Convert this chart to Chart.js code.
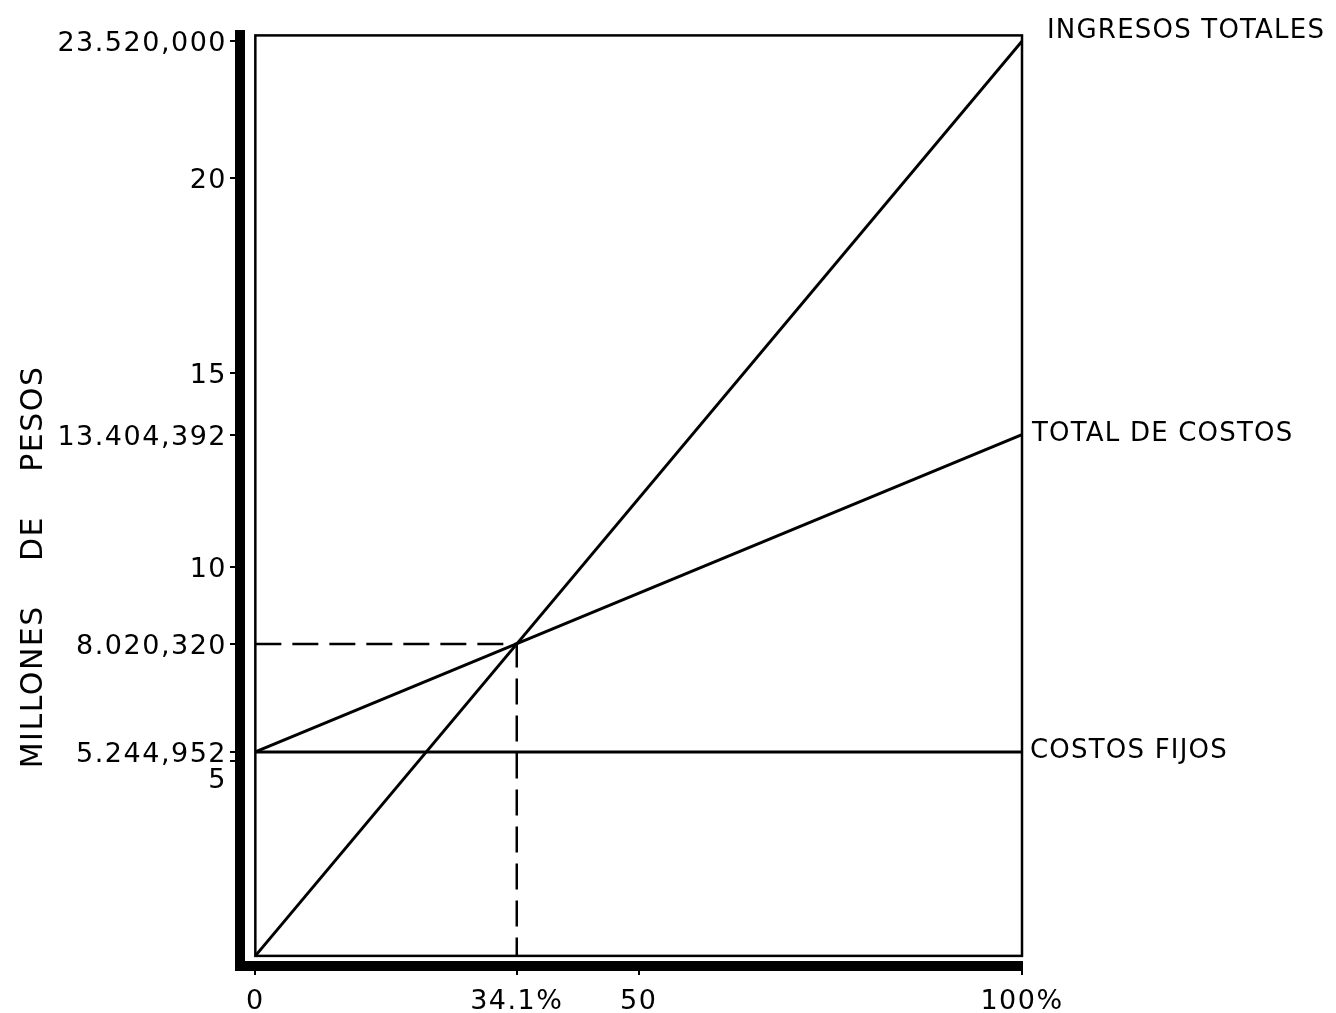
<!DOCTYPE html>
<html>
<head>
<meta charset="utf-8">
<script src="https://cdn.jsdelivr.net/npm/chart.js@4/dist/chart.umd.min.js"></script>
<style>
  html, body { margin: 0; padding: 0; background: #ffffff; }
  #wrap { width: 1336px; height: 1013px; position: relative; }
</style>
</head>
<body>
<div id="wrap"><canvas id="c" width="1336" height="1013"></canvas></div>
<script>
// ---- data ----
const xRange = [0, 100];                       // % of capacity
const ingresosTotales = [0, 23520000];
const totalDeCostos = [5244952, 13404392];
const costosFijos = [5244952, 5244952];
const breakEvenX = [0, 34.1, 34.1];
const breakEvenY = [8020320, 8020320, 0];

const seriesNames = ['INGRESOS TOTALES', 'TOTAL DE COSTOS', 'COSTOS FIJOS'];

const yTickValues = [23520000, 20000000, 15000000, 13404392, 10000000, 8020320, 5244952, 5000000];
const yTickLabels = ['23.520,000', '20', '15', '13.404,392', '10', '8.020,320', '5.244,952', ['', '5']];
const xTickValues = [0, 34.1, 50, 100];
const xTickLabels = ['0', '34.1%', '50', '100%'];
const yTitle = 'MILLONES    DE    PESOS' + '\u00A0'.repeat(12);

const toPts = (xs, ys) => xs.map((x, i) => ({ x: x, y: ys[i] }));

const FONT = "'DejaVu Sans', sans-serif";

const spacingPlugin = {
  id: 'spacing',
  beforeUpdate(chart) { chart.ctx.letterSpacing = '1.5px'; },
  beforeDraw(chart) {
    const ctx = chart.ctx;
    ctx.save();
    ctx.fillStyle = '#ffffff';
    ctx.fillRect(0, 0, chart.width, chart.height);
    ctx.restore();
    ctx.letterSpacing = '1.5px';
  }
};

// thin inner frame (from the 0/0 corner to the top-right of the plot)
const framePlugin = {
  id: 'frame',
  beforeDatasetsDraw(chart) {
    const { ctx, chartArea, scales } = chart;
    const x0 = scales.x.getPixelForValue(0);
    const y0 = scales.y.getPixelForValue(0);
    ctx.save();
    ctx.strokeStyle = '#000';
    ctx.lineWidth = 2.5;
    ctx.strokeRect(x0, chartArea.top, chartArea.right - x0, y0 - chartArea.top);
    ctx.restore();
  }
};

// series names written at the end of each line
const endLabelPlugin = {
  id: 'endLabels',
  afterDatasetsDraw(chart) {
    const { ctx } = chart;
    const offsets = [[25, -10], [10, 0], [8, -1]];
    ctx.save();
    ctx.letterSpacing = '1.2px';
    ctx.fillStyle = '#000';
    ctx.font = "26px " + FONT;
    ctx.textBaseline = 'middle';
    ctx.textAlign = 'left';
    chart.data.datasets.forEach((ds, i) => {
      if (!ds.label) return;
      const meta = chart.getDatasetMeta(i);
      const last = meta.data[meta.data.length - 1];
      const off = offsets[i] || [10, -8];
      ctx.fillText(ds.label, last.x + off[0], last.y + off[1]);
    });
    ctx.restore();
  }
};

const lineStyle = { borderColor: '#000', borderWidth: 3, pointRadius: 0, fill: false, tension: 0 };

new Chart(document.getElementById('c'), {
  type: 'line',
  data: {
    datasets: [
      Object.assign({ label: seriesNames[0], data: toPts(xRange, ingresosTotales) }, lineStyle),
      Object.assign({ label: seriesNames[1], data: toPts(xRange, totalDeCostos) }, lineStyle),
      Object.assign({ label: seriesNames[2], data: toPts(xRange, costosFijos) }, lineStyle),
      Object.assign({ label: '', data: toPts(breakEvenX, breakEvenY), borderDash: [26, 11] }, lineStyle, { borderWidth: 2.5 })
    ]
  },
  options: {
    responsive: false,
    animation: false,
    devicePixelRatio: 1,
    layout: { padding: { top: 34, right: 314, left: 0, bottom: 0 } },
    plugins: { legend: { display: false }, tooltip: { enabled: false } },
    scales: {
      x: {
        type: 'linear',
        min: -2,
        max: 100,
        afterBuildTicks(scale) { scale.ticks = xTickValues.map(v => ({ value: v })); },
        afterFit(scale) { scale.height = 47; },
        ticks: {
          autoSkip: false,
          maxRotation: 0,
          padding: 11,
          color: '#000',
          font: { family: FONT, size: 27 },
          callback(value) {
            const i = xTickValues.indexOf(value);
            return i >= 0 ? xTickLabels[i] : '';
          }
        },
        grid: { drawOnChartArea: false, drawTicks: true, tickLength: 9, color: '#000', lineWidth: 2 },
        border: { display: true, color: '#000', width: 10 }
      },
      y: {
        type: 'linear',
        min: -260000,
        max: 23670000,
        afterBuildTicks(scale) { scale.ticks = yTickValues.map(v => ({ value: v })); },
        afterFit(scale) { scale.width = 240; },
        title: {
          display: true,
          text: yTitle,
          color: '#000',
          font: { family: FONT, size: 30 },
          padding: { top: 16, bottom: 0 }
        },
        ticks: {
          autoSkip: false,
          padding: 3,
          labelOffset: 3,
          color: '#000',
          font: { family: FONT, size: 27 },
          callback(value) {
            const i = yTickValues.indexOf(value);
            return i >= 0 ? yTickLabels[i] : '';
          }
        },
        grid: { drawOnChartArea: false, drawTicks: true, tickLength: 10, color: '#000', lineWidth: 2 },
        border: { display: true, color: '#000', width: 10 }
      }
    }
  },
  plugins: [spacingPlugin, framePlugin, endLabelPlugin]
});
</script>
</body>
</html>
